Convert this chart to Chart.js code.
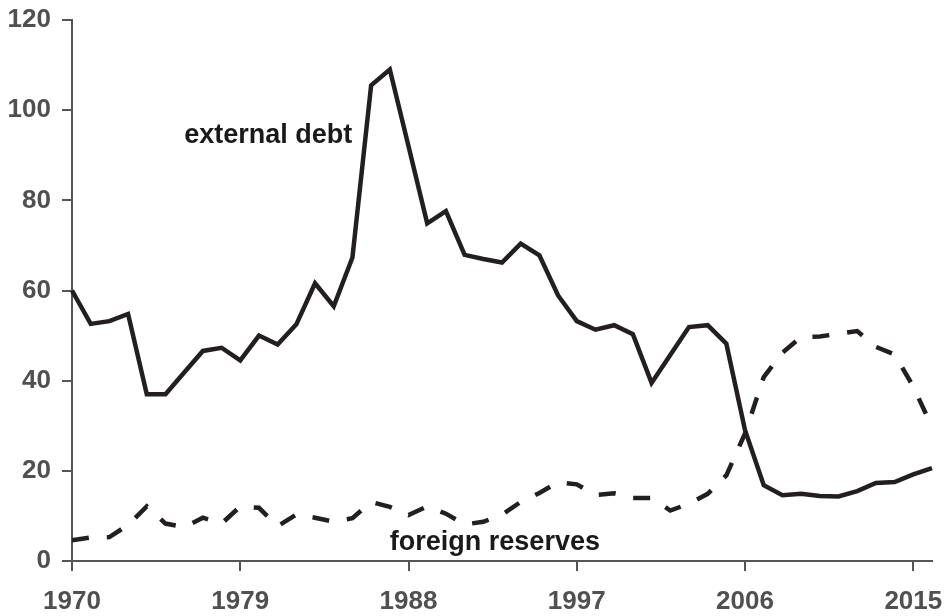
<!DOCTYPE html>
<html>
<head>
<meta charset="utf-8">
<script src="https://cdn.jsdelivr.net/npm/chart.js@4.4.1/dist/chart.umd.min.js"></script>
<style>
  html, body { margin: 0; padding: 0; background: #ffffff; }
  #wrap { width: 951px; height: 616px; position: relative; }
</style>
</head>
<body>
<div id="wrap"><canvas id="c" width="951" height="616"></canvas></div>
<script>
const years = [];
for (let y = 1970; y <= 2016; y++) years.push(y);

const externalDebt = [
  60.0, 52.6, 53.2, 54.8, 37.0, 37.0, 41.8, 46.6, 47.3, 44.5,
  50.0, 48.0, 52.5, 61.6, 56.5, 67.3, 105.5, 109.0, 92.0, 74.9,
  77.6, 67.9, 67.0, 66.2, 70.4, 67.8, 58.9, 53.2, 51.3, 52.3,
  50.3, 39.5, 45.7, 51.9, 52.3, 48.2, 29.0, 16.8, 14.6, 14.9,
  14.4, 14.3, 15.5, 17.3, 17.5, 19.2, 20.6
];

const foreignReserves = [
  4.6, 5.2, 5.3, 8.0, 12.1, 8.3, 7.5, 9.6, 8.3, 12.1,
  11.8, 7.7, 10.3, 9.6, 8.7, 9.5, 13.1, 12.0, 10.2, 12.1,
  10.5, 8.1, 8.7, 10.3, 13.1, 15.1, 17.5, 17.0, 14.6, 15.0,
  14.0, 14.0, 11.2, 12.7, 14.9, 19.0, 28.3, 40.8, 46.2, 49.7,
  49.8, 50.4, 51.0, 47.5, 45.8, 38.7, 29.7
];

const xTicks = [1970, 1979, 1988, 1997, 2006, 2015];
const yTicks = [0, 20, 40, 60, 80, 100, 120];

const seriesLabels = [
  { text: 'external debt', year: 1976.0, value: 92.7 },
  { text: 'foreign reserves', year: 1987.0, value: 2.4 }
];

const toXY = (arr) => arr.map((v, i) => ({ x: years[i], y: v }));

const AXIS_COLOR = '#555555';
const TICK_FONT = { family: '"Liberation Sans", Arial, Helvetica, sans-serif', size: 26, weight: 'bold' };

const labelPlugin = {
  id: 'seriesLabels',
  afterDatasetsDraw(chart) {
    const ctx = chart.ctx;
    const xs = chart.scales.x, ys = chart.scales.y;
    ctx.save();
    ctx.fillStyle = '#1a1a1a';
    ctx.font = 'bold 27px "Liberation Sans", Arial, Helvetica, sans-serif';
    ctx.textAlign = 'left';
    ctx.textBaseline = 'alphabetic';
    seriesLabels.forEach(l => {
      ctx.fillText(l.text, xs.getPixelForValue(l.year), ys.getPixelForValue(l.value));
    });
    ctx.restore();
  }
};

new Chart(document.getElementById('c'), {
  type: 'line',
  data: {
    datasets: [
      {
        label: 'external debt',
        data: toXY(externalDebt),
        borderColor: '#231f20',
        borderWidth: 4.5,
        pointRadius: 0,
        tension: 0,
        fill: false
      },
      {
        label: 'foreign reserves',
        data: toXY(foreignReserves),
        borderColor: '#231f20',
        borderWidth: 4.5,
        borderDash: [17, 18],
        pointRadius: 0,
        tension: 0,
        fill: false
      }
    ]
  },
  options: {
    responsive: false,
    animation: false,
    devicePixelRatio: 1,
    clip: false,
    layout: { padding: { top: 20, right: 19, left: 0, bottom: 0 } },
    plugins: {
      legend: { display: false },
      tooltip: { enabled: false },
      title: { display: false }
    },
    scales: {
      x: {
        type: 'linear',
        min: 1970,
        max: 2016,
        afterBuildTicks: (s) => { s.ticks = xTicks.map(v => ({ value: v })); },
        afterFit: (s) => { s.height = 55; s.paddingLeft = 0; s.paddingRight = 0; },
        ticks: {
          autoSkip: false,
          maxRotation: 0,
          padding: 15,
          color: '#505050',
          font: TICK_FONT,
          callback: (v) => String(v)
        },
        grid: {
          display: true,
          drawOnChartArea: false,
          drawTicks: true,
          tickLength: 10,
          color: AXIS_COLOR,
          lineWidth: 2
        },
        border: { display: true, color: AXIS_COLOR, width: 2 }
      },
      y: {
        type: 'linear',
        min: 0,
        max: 120,
        afterBuildTicks: (s) => { s.ticks = yTicks.map(v => ({ value: v })); },
        afterFit: (s) => { s.width = 72; s.paddingTop = 0; s.paddingBottom = 0; },
        ticks: {
          padding: 11,
          color: '#505050',
          font: TICK_FONT,
          callback: (v) => String(v)
        },
        grid: {
          display: true,
          drawOnChartArea: false,
          drawTicks: true,
          tickLength: 10,
          color: AXIS_COLOR,
          lineWidth: 2
        },
        border: { display: true, color: AXIS_COLOR, width: 2 }
      }
    }
  },
  plugins: [labelPlugin]
});
</script>
</body>
</html>
